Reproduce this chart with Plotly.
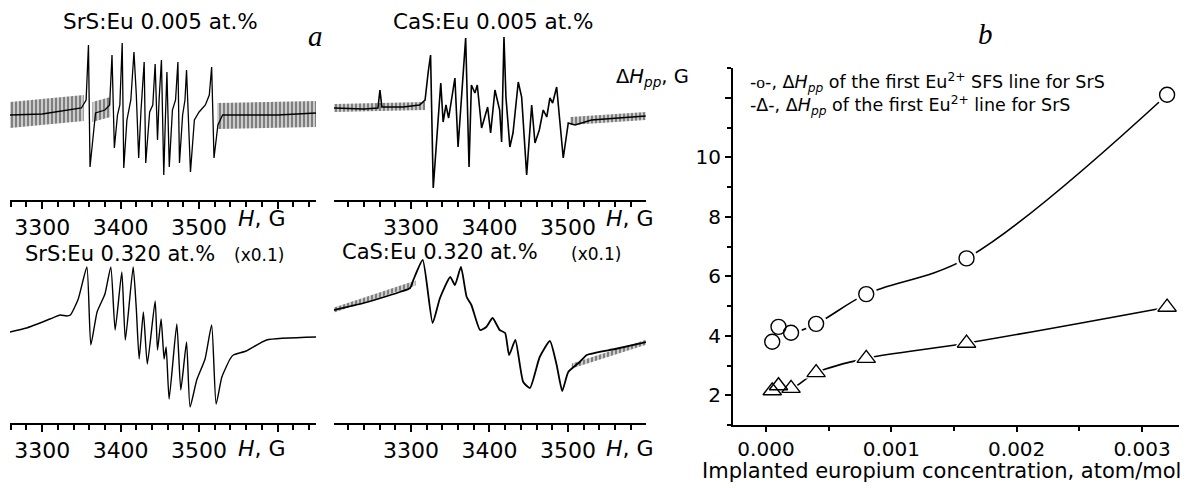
import plotly.graph_objects as go

W, H = 1186, 488

# ---------------- panel a : EPR spectra (field H in G, signal in arb. units) -------------
tl_H = [3259, 3300, 3350, 3356, 3359, 3361, 3368, 3380, 3386, 3389, 3392, 3396, 3399, 3402, 3404,
        3408, 3413, 3417, 3420, 3423, 3426, 3430, 3432, 3437, 3441, 3444, 3447, 3449, 3452, 3455,
        3457, 3459, 3462, 3466, 3470, 3473, 3475, 3479, 3482, 3484, 3489, 3494, 3500, 3508, 3513,
        3516, 3519, 3524, 3530, 3600, 3649]
tl_S = [85, 86, 92, 100, 155, 33, 87, 90, 95, 145, 52, 85, 95, 157, 32,
        80, 100, 148, 105, 42, 90, 138, 37, 88, 95, 136, 60, 100, 140, 25,
        80, 128, 33, 90, 100, 138, 37, 85, 100, 130, 28, 80, 88, 95, 105,
        133, 42, 75, 85, 85, 87]

tr_H = [3202, 3240, 3258, 3260.5, 3263, 3290, 3311, 3318, 3322, 3325, 3328.4, 3338, 3341, 3344.6,
        3348, 3356, 3360, 3369.7, 3374, 3377, 3381.5, 3384.5, 3390, 3394, 3397.7, 3401.5, 3407,
        3413, 3415.5, 3418.5, 3421, 3426, 3430, 3436.7, 3441, 3447.4, 3453.8, 3458, 3463.5,
        3468.5, 3473, 3477, 3480.5, 3485.6, 3494, 3500.4, 3509, 3530, 3560, 3599]
tr_S = [92, 91, 92, 110, 93, 93, 95, 100, 128, 145, 12, 117, 78, 95,
        82, 122, 53, 162, 33, 115, 107, 115, 72, 82, 93, 67, 110,
        90, 58, 163, 103, 53, 67, 118, 103, 25, 95, 57, 70,
        90, 83, 102, 97, 113, 42, 77, 75, 80, 82, 84]

bl_H = [3259, 3280, 3310, 3323, 3331, 3336, 3346, 3357, 3362, 3370, 3380, 3387.5, 3393, 3401.5,
        3406, 3416, 3420, 3423.6, 3429, 3434, 3444, 3447, 3451.6, 3455.4, 3458, 3461.8, 3471.6,
        3476.7, 3484, 3488.5, 3497, 3507.6, 3516, 3521.7, 3529, 3539.5, 3543.7, 3560, 3586, 3649]
bl_S = [91, 95, 104, 108, 107, 108, 124, 156, 78, 111, 129, 156, 93, 151,
        83, 156, 114, 64, 111, 59, 122, 73, 104, 64, 76, 24, 99,
        33, 81, 16, 43, 64, 98, 19, 46, 64, 68, 72, 83, 86]

br_H = [3202, 3240, 3270, 3286, 3299, 3303, 3315, 3327.6, 3337, 3350, 3356, 3363.7, 3371, 3377,
        3388, 3396, 3404, 3413, 3420, 3425, 3433, 3443, 3451.6, 3464, 3477, 3485.6, 3492.7,
        3500.4, 3515, 3524, 3560, 3600]
br_S = [113, 120, 127, 131, 135, 143, 163, 100, 125, 146, 138, 156, 126, 118,
        93, 96, 105, 93, 90, 68, 83, 41, 35, 66, 82, 58, 32,
        51, 61, 68, 74, 81]

# noise bands: (H start, H end, centre start, centre end, half width)
tl_noise = [(3259, 3353, 85, 92, 13), (3364, 3387, 88, 93, 10), (3523, 3649, 84, 86, 13)]
tr_noise = [(3202, 3318, 92, 94, 4), (3503, 3599, 79, 84, 4)]
br_noise = [(3202, 3306, 113, 140, 2.5), (3505, 3600, 57, 81, 2.5)]

spec_titles = ["SrS:Eu 0.005 at.%", "CaS:Eu 0.005 at.%", "SrS:Eu 0.320 at.%", "CaS:Eu 0.320 at.%"]
field_ticks = [3300, 3400, 3500, 3600]
field_labels = ["3300", "3400", "3500", ""]

# ---------------- panel b ----------------
conc = [0.00005, 0.0001, 0.0002, 0.0004, 0.0008, 0.0016, 0.0032]
dh_sfs = [3.8, 4.3, 4.1, 4.4, 5.4, 6.6, 12.1]
dh_line = [2.15, 2.32, 2.23, 2.76, 3.24, 3.75, 4.96]
b_xticks = [0.0, 0.001, 0.002, 0.003]
b_xlabels = ["0.000", "0.001", "0.002", "0.003"]
b_yticks = [2, 4, 6, 8, 10, 12]
b_ylabels = ["2", "4", "6", "8", "10", ""]

SANS = "DejaVu Sans, Verdana, sans-serif"
SERIF = "Liberation Serif, Times New Roman, serif"

def px(x):
    return x / W

def py(y):
    return 1 - y / H

fig = go.Figure()

# spectra
spectra = [
    (tl_H, tl_S, "x", "y", tl_noise, "linear", 1.3),
    (tr_H, tr_S, "x2", "y2", tr_noise, "linear", 1.6),
    (bl_H, bl_S, "x3", "y3", [], "spline", 1.4),
    (br_H, br_S, "x4", "y4", br_noise, "spline", 1.8),
]
for hh, ss, xa, ya, noise, shape, lw in spectra:
    for h0, h1, c0, c1, w in noise:
        fig.add_trace(go.Scatter(x=[h0, h1, h1, h0, h0], y=[c0 + w, c1 + w, c1 - w, c0 - w, c0 + w],
                                 mode="lines", fill="toself", fillcolor="black",
                                 fillpattern=dict(shape="|", size=4, solidity=0.7,
                                                  fgcolor="black", bgcolor="white"),
                                 line=dict(width=0), xaxis=xa, yaxis=ya, showlegend=False,
                                 hoverinfo="skip"))
    fig.add_trace(go.Scatter(x=hh, y=ss, mode="lines",
                             line=dict(color="black", width=lw, shape=shape, smoothing=0.5),
                             xaxis=xa, yaxis=ya, showlegend=False))

# panel b
for ys, sym, sz in [(dh_sfs, "circle", 15), (dh_line, "triangle-up", 16)]:
    fig.add_trace(go.Scatter(x=conc, y=ys, mode="lines",
                             line=dict(color="black", width=1.6, shape="spline", smoothing=1.0),
                             xaxis="x5", yaxis="y5", showlegend=False, cliponaxis=False))
    fig.add_trace(go.Scatter(x=conc, y=ys, mode="markers",
                             marker=dict(symbol=sym, size=sz + 7, color="white", line=dict(width=0)),
                             xaxis="x5", yaxis="y5", showlegend=False, cliponaxis=False))
    fig.add_trace(go.Scatter(x=conc, y=ys, mode="markers",
                             marker=dict(symbol=sym + "-open", size=sz, color="black",
                                         line=dict(width=1.4, color="black")),
                             xaxis="x5", yaxis="y5", showlegend=False, cliponaxis=False))

def field_axis(x0, x1, r):
    return dict(domain=[px(x0), px(x1)], range=r, showline=True, linecolor="black", linewidth=2,
                ticks="outside", ticklen=7, tickwidth=2, tickcolor="black",
                tickvals=field_ticks, ticktext=field_labels,
                tickfont=dict(family=SANS, size=22, color="black"),
                minor=dict(dtick=20, tick0=3200, ticks="outside", ticklen=5, tickwidth=1.5,
                           tickcolor="black", showgrid=False),
                showgrid=False, zeroline=False, fixedrange=True)

def sig_axis(y_bottom, y_top, anchor):
    return dict(domain=[py(y_bottom), py(y_top)], range=[0, 170], visible=False,
                showgrid=False, zeroline=False, anchor=anchor)

layout = dict(
    width=W, height=H, margin=dict(l=0, r=0, t=0, b=0),
    paper_bgcolor="white", plot_bgcolor="white",
    xaxis=dict(field_axis(10, 316, [3259, 3649]), anchor="y"),
    yaxis=sig_axis(200, 30, "x"),
    xaxis2=dict(field_axis(334, 646, [3202, 3599.4]), anchor="y2"),
    yaxis2=sig_axis(200, 30, "x2"),
    xaxis3=dict(field_axis(10, 316, [3259, 3649]), anchor="y3"),
    yaxis3=sig_axis(423, 253, "x3"),
    xaxis4=dict(field_axis(334, 646, [3202, 3599.4]), anchor="y4"),
    yaxis4=sig_axis(423, 253, "x4"),
    xaxis5=dict(domain=[px(733), px(1179)], range=[-0.000263, 0.003295], anchor="y5",
                showline=True, linecolor="black", linewidth=2, ticks="outside", ticklen=5,
                tickwidth=2, tickcolor="black", tickvals=b_xticks, ticktext=b_xlabels,
                tickfont=dict(family=SANS, size=20, color="black"),
                minor=dict(dtick=0.0005, tick0=0, ticks="outside", ticklen=4, tickwidth=1.5,
                           tickcolor="black", showgrid=False),
                showgrid=False, zeroline=False),
    yaxis5=dict(domain=[py(425), py(68)], range=[1, 13], anchor="x5",
                showline=True, linecolor="black", linewidth=2, ticks="outside", ticklen=6,
                tickwidth=2, tickcolor="black", tickvals=b_yticks, ticktext=b_ylabels,
                tickfont=dict(family=SANS, size=20, color="black"),
                minor=dict(dtick=1, tick0=1, ticks="outside", ticklen=4, tickwidth=1.5,
                           tickcolor="black", showgrid=False),
                showgrid=False, zeroline=False),
)
fig.update_layout(**layout)

ann = []
def text(x, y, s, size, family=SANS, xanchor="center"):
    ann.append(dict(x=px(x), y=py(y), xref="paper", yref="paper", text=s, showarrow=False,
                    xanchor=xanchor, yanchor="middle",
                    font=dict(family=family, size=size, color="black")))

text(160, 21, spec_titles[0], 21.5)
text(493, 21, spec_titles[1], 21.5)
text(120, 254, spec_titles[2], 21)
text(440, 252, spec_titles[3], 21)
text(259, 255, "(x0.1)", 17)
text(596, 254, "(x0.1)", 17)
for xx, yy in [(262, 218), (630, 218), (262, 448), (630, 448)]:
    text(xx, yy, "<i>H</i>, G", 22)
text(315, 36, "<i>a</i>", 29, SERIF)
text(985, 34, "<i>b</i>", 29, SERIF)
text(652, 77, "Δ<i>H<sub>pp</sub></i>, G", 19.5)
text(748, 82, "-<span style='font-family:Liberation Serif'>o</span>-, Δ<i>H<sub>pp</sub></i> of the first Eu<sup>2+</sup> SFS line for SrS", 17.5, xanchor="left")
text(748, 106, "-Δ-, Δ<i>H<sub>pp</sub></i> of the first Eu<sup>2+</sup> line for SrS", 17.5, xanchor="left")
text(942, 471, "Implanted europium concentration, atom/mol", 21)
fig.update_layout(annotations=ann)

fig.write_html("out.html", config={"displayModeBar": False},
               post_script="document.body.style.margin='0';document.body.style.overflow='hidden';")
